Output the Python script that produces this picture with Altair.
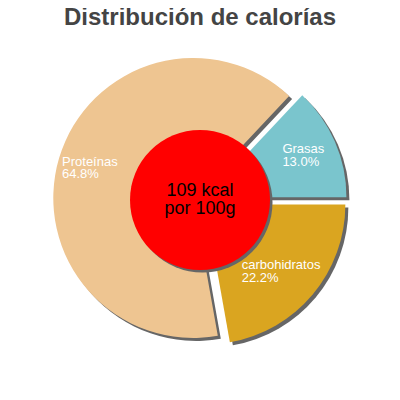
import math
import altair as alt
import pandas as pd

# ---- data ----
categories = ["Grasas", "carbohidratos", "Proteínas"]
values = [13.0, 22.2, 64.8]
colors = ["#7AC5CD", "#DAA520", "#EEC591"]
kcal_lines = ["109 kcal", "por 100g"]
title_text = "Distribución de calorías"

# ---- layout ----
W, H = 384, 384
CX, CY = 192, 192          # pie centre in view coords
R = 140
R_HOLE = 70
EXPLODE = 7
SHADOW = 3
LABEL_R = 105
START = math.pi / 2 - 2 * math.pi * values[0] / 100

df = pd.DataFrame({"idx": list(range(len(categories))), "name": categories, "value": values})
center_df = pd.DataFrame({"text": ["\n".join(kcal_lines)]})
title_df = pd.DataFrame({"title": [title_text]})

xs = alt.Scale(domain=[0, W], range=[0, W])
ys = alt.Scale(domain=[0, H], range=[0, H])
col = alt.Color("name:N", scale=alt.Scale(domain=categories, range=colors), legend=None)

base = (
    alt.Chart(df)
    .transform_window(cum="sum(value)", sort=[alt.SortField("idx")], frame=[None, 0])
    .transform_calculate(
        t0=f"{START} + 2*PI*(datum.cum - datum.value)/100",
        t1=f"{START} + 2*PI*datum.cum/100",
    )
    .transform_calculate(mid="(datum.t0 + datum.t1)/2")
    .transform_calculate(
        cx=f"{CX} + {EXPLODE}*sin(datum.mid)",
        cy=f"{CY} - {EXPLODE}*cos(datum.mid)",
    )
    .transform_calculate(
        sx=f"datum.cx + {SHADOW}",
        sy=f"datum.cy + {SHADOW}",
        lx=f"datum.cx + {LABEL_R}*sin(datum.mid) - 3.4*length(datum.name)",
        ly=f"datum.cy - {LABEL_R}*cos(datum.mid)",
        label="datum.name + '\\n' + format(datum.value, '.1f') + '%'",
    )
)

shadows = base.mark_arc(radius=R, color="#666666").encode(
    x=alt.X("sx:Q", scale=xs, axis=None),
    y=alt.Y("sy:Q", scale=ys, axis=None),
    theta=alt.Theta("t0:Q", scale=None),
    theta2="t1:Q",
)

slices = base.mark_arc(radius=R).encode(
    x=alt.X("cx:Q", scale=xs, axis=None),
    y=alt.Y("cy:Q", scale=ys, axis=None),
    theta=alt.Theta("t0:Q", scale=None),
    theta2="t1:Q",
    color=col,
)

labels = base.mark_text(
    align="left", baseline="middle", lineBreak="\n", lineHeight=12.5, dy=-6.5,
    font="Liberation Sans", fontSize=13, color="white",
).encode(
    x=alt.X("lx:Q", scale=xs, axis=None),
    y=alt.Y("ly:Q", scale=ys, axis=None),
    text="label:N",
)

hole_size = (2 * R_HOLE) ** 2
hole_shadow = alt.Chart(center_df).mark_circle(
    size=hole_size, color="#666666", opacity=1
).encode(x=alt.value(CX + 2.5), y=alt.value(CY + 2.5))
hole = alt.Chart(center_df).mark_circle(
    size=hole_size, color="#FF0000", opacity=1
).encode(x=alt.value(CX), y=alt.value(CY))
center_text = alt.Chart(center_df).mark_text(
    align="center", baseline="middle", lineBreak="\n", lineHeight=18, dy=-9,
    font="Liberation Sans", fontSize=18, color="black",
).encode(x=alt.value(CX), y=alt.value(CY), text="text:N")

title = alt.Chart(title_df).mark_text(
    align="center", baseline="alphabetic",
    font="Liberation Sans", fontSize=24, fontWeight="bold", color="#444444",
).encode(x=alt.value(CX), y=alt.value(17), text="title:N")

chart = (
    alt.layer(shadows, slices, hole_shadow, hole, labels, center_text, title)
    .properties(
        width=W, height=H,
        autosize=alt.AutoSizeParams(type="none"),
        padding={"left": 0, "top": 0, "right": 0, "bottom": 0},
    )
    .configure_view(stroke=None)
)

chart.save("out.html", embed_options={"renderer": "svg", "actions": False})
